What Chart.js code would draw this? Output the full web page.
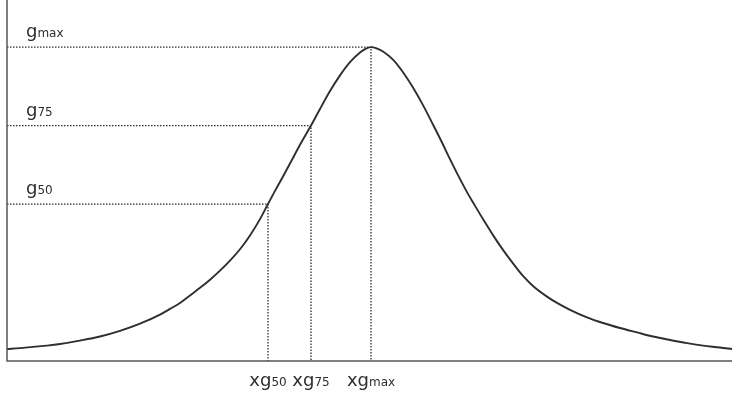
<!DOCTYPE html>
<html>
<head>
<meta charset="utf-8">
<script src="https://cdn.jsdelivr.net/npm/chart.js@4/dist/chart.umd.min.js"></script>
<style>
  html, body { margin: 0; padding: 0; background: #fff; }
  #wrap { width: 732px; height: 401px; }
</style>
</head>
<body>
<div id="wrap"><canvas id="curve-chart" width="732" height="401"></canvas></div>
<script>
// curve (x in arbitrary units, g in % of gmax)
const curveX = [0, 2.6, 5.2, 8.0, 10.6, 14.6, 18.6, 22.6, 26.6, 30.6, 32.6, 34.6, 36.6, 38.6, 40.6, 42.6,
  44.6, 46.6, 48.6, 50.6, 52.2, 53.6, 55.2, 57.0, 58.6, 60.8, 62.6, 64.6, 66.6, 68.6, 70.6, 71.8, 72.8,
  73.8, 75.2, 77.2, 79.2, 81.2, 83.2, 85.2, 87.0, 88.6, 90.2, 92.0, 93.4, 95.2, 97.2, 99.2, 101.2,
  103.2, 105.2, 108.0, 110.0, 112.6, 116.0, 119.2, 122.6, 126.0, 129.2, 132.6, 136.0, 139.2, 142.6, 145.0];
const curveG = [3.8, 4.1, 4.5, 4.9, 5.4, 6.5, 7.8, 9.6, 11.9, 14.8, 16.6, 18.5, 20.9, 23.3, 25.9, 28.8,
  32.0, 35.6, 40.0, 45.2, 50.0, 54.2, 58.8, 64.1, 68.9, 75.0, 80.3, 86.0, 91.0, 95.2, 98.3, 99.5, 100,
  99.7, 98.6, 96.0, 92.0, 87.1, 81.5, 75.3, 69.6, 64.3, 59.2, 53.8, 50.0, 45.2, 40.1, 35.4, 31.1,
  27.1, 23.9, 20.5, 18.5, 16.3, 13.9, 12.1, 10.5, 9.1, 7.8, 6.7, 5.7, 4.9, 4.3, 3.8];

// marked levels: gmax, g75, g50 and where the curve reaches them
const markerNames = ['max', '75', '50'];
const markerG = [100, 75, 50];
const markerX = [72.8, 60.8, 52.2];

const ink = '#2e2e2e';
const bigFont = '18px "DejaVu Sans"';
const smallFont = '12px "DejaVu Sans"';

// draws "g" + small suffix, starting at x (or centred on x)
function drawLabel(ctx, prefix, suffix, x, y, centre) {
  ctx.font = bigFont;
  const w1 = ctx.measureText(prefix).width;
  ctx.font = smallFont;
  const w2 = ctx.measureText(suffix).width;
  let start = centre ? x - (w1 + w2) / 2 : x;
  ctx.font = bigFont;
  ctx.fillText(prefix, start, y);
  ctx.font = smallFont;
  ctx.fillText(suffix, start + w1, y);
}

const axesAndLabels = {
  id: 'axesAndLabels',
  afterDraw(chart) {
    const { ctx, chartArea, scales } = chart;
    ctx.save();
    ctx.strokeStyle = '#555';
    ctx.lineWidth = 1.5;
    ctx.beginPath();
    ctx.moveTo(chartArea.left, chartArea.top);
    ctx.lineTo(chartArea.left, chartArea.bottom);
    ctx.lineTo(chartArea.right, chartArea.bottom);
    ctx.stroke();

    ctx.fillStyle = ink;
    ctx.textBaseline = 'alphabetic';
    markerNames.forEach((name, i) => {
      const yPix = scales.y.getPixelForValue(markerG[i]);
      drawLabel(ctx, 'g', name, chartArea.left + 19, yPix - 10, false);
      const xPix = scales.x.getPixelForValue(markerX[i]);
      drawLabel(ctx, 'xg', name, xPix, chartArea.bottom + 25, true);
    });
    ctx.restore();
  }
};

const guides = markerNames.map((name, i) => ({
  label: 'g' + name,
  data: [{ x: 0, y: markerG[i] }, { x: markerX[i], y: markerG[i] }, { x: markerX[i], y: 0 }],
  borderColor: ink,
  borderWidth: 1.3,
  borderDash: [1.5, 1.5],
  pointRadius: 0,
  tension: 0,
  clip: false
}));

new Chart(document.getElementById('curve-chart'), {
  type: 'line',
  data: {
    datasets: [{
      label: 'g',
      data: curveX.map((x, i) => ({ x: x, y: curveG[i] })),
      borderColor: ink,
      borderWidth: 1.9,
      pointRadius: 0,
      cubicInterpolationMode: 'monotone',
      clip: false
    }, ...guides]
  },
  options: {
    responsive: false,
    animation: false,
    layout: { padding: { left: 7, right: 0, top: 0, bottom: 40 } },
    plugins: { legend: { display: false }, tooltip: { enabled: false } },
    scales: {
      x: { type: 'linear', min: 0, max: 145, display: false },
      y: { min: 0, max: 115, display: false }
    }
  },
  plugins: [axesAndLabels]
});
</script>
</body>
</html>
